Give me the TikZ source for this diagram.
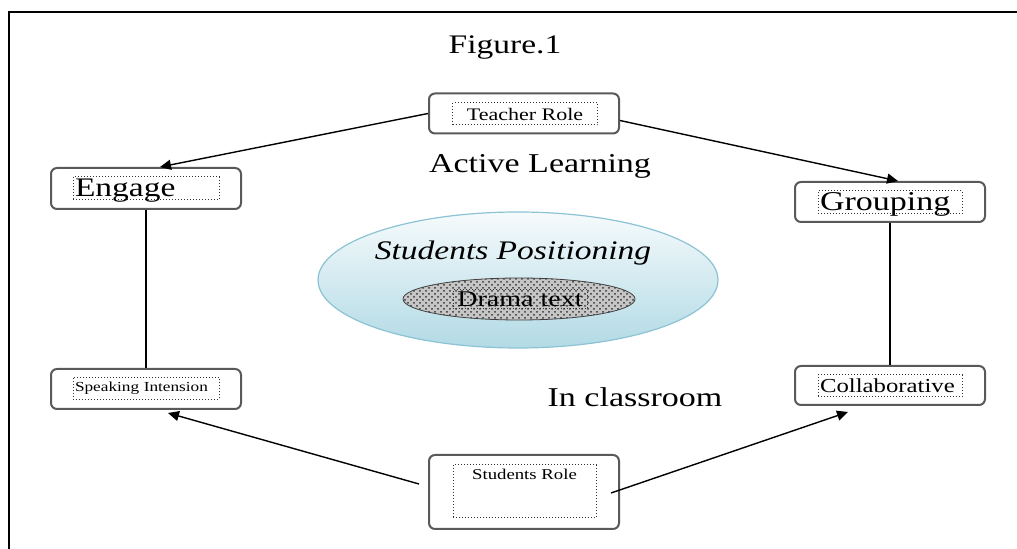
\documentclass[tikz,border=0pt]{standalone}
\usepackage{fontspec}
\setmainfont[FakeStretch=1.25]{Liberation Serif}
\usetikzlibrary{shapes.geometric, arrows.meta, calc, patterns}
\definecolor{ellblue}{RGB}{178,218,229}
\definecolor{elledge}{RGB}{140,195,212}
\newcommand{\setfs}[1]{\fontsize{#1}{#1}\selectfont}
\tikzset{
	rolebox/.style={draw=black!65, line width=1pt, rounded corners=3pt, minimum width=95pt, minimum height=20pt},
	tagbox/.style={draw=black!80, densely dotted, line width=.5pt, inner sep=0pt, inner xsep=1pt, minimum height=11.5pt},
	bigtag/.style={tagbox, text width=#1, align=left, text height=9.5pt, text depth=1pt},
	link/.style={line width=.7pt, -{Triangle[length=5.5pt,width=5pt]}},
}
\begin{document}
\begin{tikzpicture}[x=.5pt, y=-.5pt]
	\useasboundingbox (0,0) rectangle (1017,549);
	\draw[line width=.7pt] (1017,12) -- (9,12) -- (9,549);
	\node[font=\setfs{13.4}] (figure) at (505,48) {Figure.1};
	\node[font=\setfs{13.6}] (active) at (540,166) {Active Learning};
	\node[font=\setfs{13.6}] (classroom) at (635,397) {In classroom};

	% centre ellipses
	\node[ellipse, draw=elledge, line width=.6pt, top color=ellblue!12, bottom color=ellblue, minimum width=200pt, minimum height=68pt] (position) at (518,280) {};
	\node[font=\itshape\setfs{13.4}] (positiontext) at (513,253) {Students Positioning};
	\node[ellipse, draw=black!75, preaction={fill=gray!45}, pattern=crosshatch dots, pattern color=black!80, minimum width=116pt, minimum height=21pt] (drama) at (519,299) {};
	\node[tagbox, minimum width=67pt, minimum height=9.5pt, font=\setfs{11.2}] (dramatag) at (520,299.5) {Drama text};

	% role boxes
	\node[rolebox] (teacher) at (524,113.5) {};
	\node[tagbox, minimum width=72.5pt, minimum height=11pt, font=\setfs{8.8}] (teachertag) at (525,114) {Teacher Role};
	\node[rolebox, minimum height=37pt] (students) at (524,492) {};
	\node[tagbox, minimum width=71.5pt, minimum height=26.5pt] (studentstag) at (524.5,491.5) {};
	\node[font=\setfs{7.5}, anchor=north, inner sep=1pt] (studentstext) at ($(studentstag.north)+(0,2)$) {Students Role};

	\node[rolebox, minimum height=20.5pt] (engage) at (146,188.5) {};
	\node[bigtag=71pt, font=\setfs{13.4}] (engagetag) at (146,188.5) {Engage};
	\node[rolebox] (speaking) at (146,389) {};
	\node[tagbox, text width=71pt, align=left, minimum height=11pt, font=\setfs{6.9}] (speakingtag) at (146,388.5) {Speaking Intension};

	\node[rolebox] (grouping) at (890,202) {};
	\node[bigtag=70pt, font=\setfs{13.6}] (groupingtag) at (890,202.5) {Grouping};
	\node[rolebox, minimum height=19.5pt] (collab) at (890,385.5) {};
	\node[tagbox, text width=70pt, align=left, minimum height=11pt, font=\setfs{9.9}] (collabtag) at (890,386) {Collaborative};

	% connectors
	\draw[link] (teacher.west) -- ($(engage.north)+(14,0)$);
	\draw[link] ($(teacher.east)+(0,7)$) -- ($(grouping.north)+(8,0)$);
	\draw[line width=.7pt] (engage.south) -- (speaking.north);
	\draw[line width=.7pt] (grouping.south) -- (collab.north);
	\draw[link] ($(students.west)+(-9,-8)$) -- ($(speaking.south)+(22,3)$);
	\draw[link] ($(students.east)+(-9,1)$) -- ($(collab.south)+(-42,6)$);
\end{tikzpicture}
\end{document}
